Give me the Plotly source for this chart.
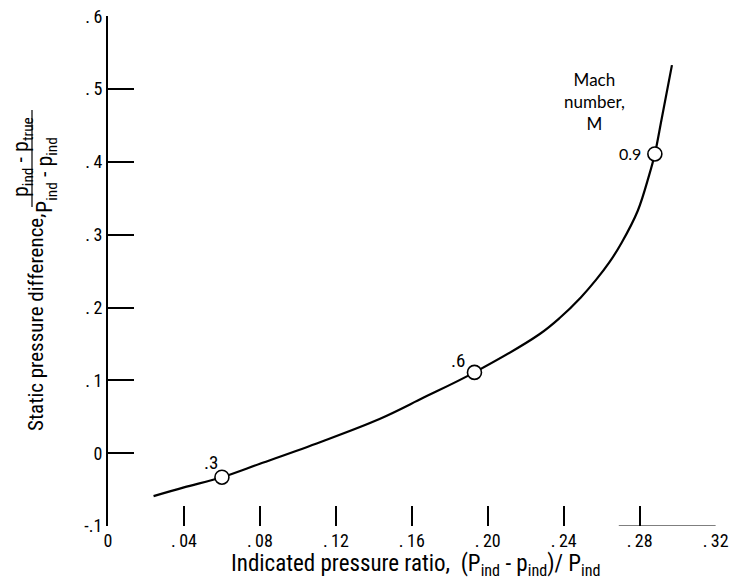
import plotly.graph_objects as go

# Curve: indicated pressure ratio vs static pressure difference
curve_x = [0.024, 0.040, 0.060, 0.080, 0.112, 0.143, 0.166, 0.193, 0.227, 0.238,
           0.249, 0.257, 0.264, 0.2705, 0.279, 0.285, 0.288, 0.2915, 0.297]
curve_y = [-0.059, -0.047, -0.033, -0.0145, 0.0155, 0.047, 0.076, 0.111, 0.163, 0.186,
           0.214, 0.238, 0.262, 0.289, 0.333, 0.382, 0.411, 0.458, 0.533]

# Mach number points
mach_x = [0.060, 0.193, 0.288]
mach_y = [-0.033, 0.111, 0.411]
mach_labels = [".3", ".6", "0.9"]

x_ticks = [0, 0.04, 0.08, 0.12, 0.16, 0.20, 0.24, 0.28, 0.32]
x_ticktext = ["0", ".\u200904", ".\u200908", ".\u200912", ".\u200916", ".\u200920",
              ".\u200924", ".\u200928", ".\u200932"]
y_ticks = [-0.1, 0, 0.1, 0.2, 0.3, 0.4, 0.5, 0.6]
y_ticktext = ["-.1", "0", ".\u20091", ".\u20092", ".\u20093", ".\u20094", ".\u20095", ".\u20096"]

FONT = "Roboto Condensed, sans-serif"
FONT2 = "Lato, sans-serif"

fig = go.Figure()
fig.add_trace(go.Scatter(x=curve_x, y=curve_y, mode="lines",
                         line=dict(color="black", width=2.2, shape="spline", smoothing=1.0),
                         hoverinfo="skip", showlegend=False))
fig.add_trace(go.Scatter(x=mach_x, y=mach_y, mode="markers",
                         marker=dict(size=14, color="white", line=dict(color="black", width=1.6)),
                         showlegend=False))

PL, PR, PT, PB = 108, 716, 16, 526   # plot area in pixels
W, H = 730, 582
pw = PR - PL
ph = PB - PT

def px(xs):
    return (xs - PL) / pw

def py(ys):
    return (PB - ys) / ph

def pann(x, y, text, size, family=FONT, angle=0, **kw):
    d = dict(x=px(x), y=py(y), xref="paper", yref="paper", text=text, showarrow=False,
             xanchor="center", yanchor="middle", textangle=angle,
             font=dict(family=family, size=size, color="black"))
    d.update(kw)
    return d

annotations = [
    dict(x=0.0545, y=-0.0123, xref="x", yref="y", text=mach_labels[0], showarrow=False,
         xanchor="center", yanchor="middle", font=dict(family=FONT, size=19, color="black")),
    dict(x=0.1843, y=0.1274, xref="x", yref="y", text=mach_labels[1], showarrow=False,
         xanchor="center", yanchor="middle", font=dict(family=FONT, size=19, color="black")),
    dict(x=0.2818, y=0.411, xref="x", yref="y", text=mach_labels[2], showarrow=False,
         xanchor="right", yanchor="middle", font=dict(family=FONT2, size=16, color="black")),
    pann(594, 102, "Mach<br>number,<br>M", 17, family=FONT2, align="center"),
    pann(416, 565, "Indicated pressure ratio,  (P<sub>ind</sub> - p<sub>ind</sub>)/ P<sub>ind</sub>", 23),
    pann(36, 323, "Static pressure difference,", 21, angle=-90),
    pann(22, 157, "p<sub>ind</sub> - p<sub>true</sub>", 22, angle=-90),
    pann(46, 175, "P<sub>ind</sub> - p<sub>ind</sub>", 22, angle=-90),
]

shapes = [
    dict(type="line", xref="paper", yref="paper", x0=px(32), x1=px(32), y0=py(110), y1=py(207),
         line=dict(color="black", width=1.2)),
    dict(type="line", xref="x", yref="y", x0=0.269, x1=0.32, y0=-0.1, y1=-0.1,
         line=dict(color="black", width=1.2)),
]

fig.update_layout(
    width=W, height=H,
    margin=dict(l=PL, r=W - PR, t=PT, b=H - PB),
    paper_bgcolor="white", plot_bgcolor="white",
    annotations=annotations, shapes=shapes,
    font=dict(family=FONT, size=18, color="black"),
)
fig.update_xaxes(range=[0, 0.3202], tickvals=x_ticks, ticktext=x_ticktext,
                 showline=False, showgrid=False, zeroline=False, automargin=False,
                 ticks="inside", ticklen=20, tickwidth=1.6, tickcolor="black",
                 ticklabelstandoff=2,
                 tickfont=dict(family=FONT, size=18, color="black"))
fig.update_yaxes(range=[-0.1, 0.6005], tickvals=y_ticks, ticktext=y_ticktext,
                 showline=True, linewidth=2, linecolor="black",
                 showgrid=False, zeroline=False, automargin=False,
                 ticks="inside", ticklen=26, tickwidth=1.6, tickcolor="black",
                 ticklabelstandoff=0,
                 tickfont=dict(family=FONT, size=18, color="black"))

# remove the browser's default 8px body margin so the figure fills the window exactly
fig.write_html("out.html", config={"displayModeBar": False},
               post_script="document.body.style.margin='0';")
